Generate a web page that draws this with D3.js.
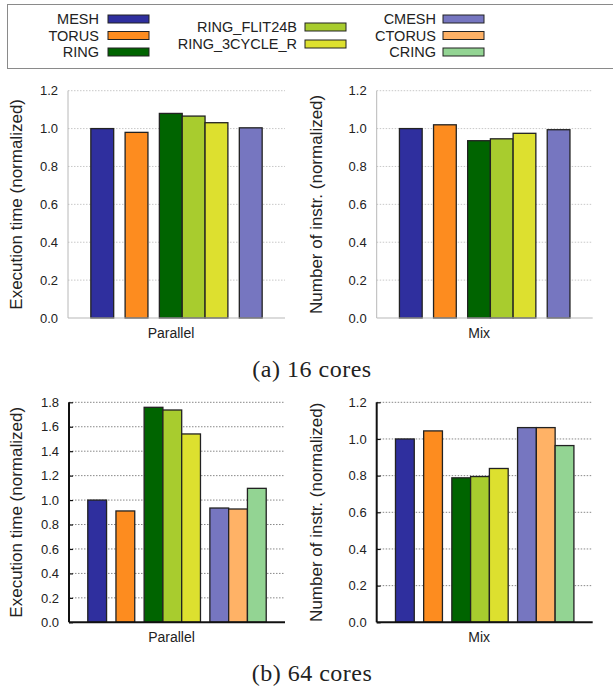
<!DOCTYPE html>
<html>
<head>
<meta charset="utf-8">
<script src="https://cdn.jsdelivr.net/npm/d3@7"></script>
<style>
body { margin: 0; background: #fff; }
text { font-family: "Liberation Sans", Arial, sans-serif; fill: #222; }
</style>
</head>
<body>
<div id="chart-area"></div>
<script>
// networks and the cluster each belongs to (clusters are separated by a gap)
let networks = ["MESH", "TORUS", "RING", "RING_FLIT24B", "RING_3CYCLE_R", "CMESH", "CTORUS", "CRING"];
let netGroup = [0, 1, 2, 2, 2, 3, 3, 3];
let netColors = ["#2f2f9e", "#fd8c1f", "#006400", "#a8cc2e", "#dde02f", "#7676c0", "#ffb266", "#93d493"];

// 16 cores (no concentrated ring / torus runs)
let parallel16 = [1.0, 0.98, 1.08, 1.066, 1.031, 1.004, null, null];
let mix16 = [1.0, 1.02, 0.936, 0.946, 0.975, 0.994, null, null];
// 64 cores
let parallel64 = [1.0, 0.911, 1.759, 1.737, 1.541, 0.935, 0.927, 1.096];
let mix64 = [1.0, 1.044, 0.788, 0.795, 0.839, 1.062, 1.062, 0.964];

let ticks12 = [0, 0.2, 0.4, 0.6, 0.8, 1.0, 1.2];
let ticks18 = [0, 0.2, 0.4, 0.6, 0.8, 1.0, 1.2, 1.4, 1.6, 1.8];

let svg = d3.select("#chart-area").append("svg")
	.attr("width", 613)
	.attr("height", 686);

// ---- legend ----
svg.append("rect")
	.attr("x", 7.5).attr("y", 4.5)
	.attr("width", 620).attr("height", 64)
	.attr("fill", "none")
	.attr("stroke", "#8a8a8a");

let legendCols = [
	{ idx: [0, 1, 2], right: 99, sw: 108, ys: [19, 35.5, 52] },
	{ idx: [3, 4], right: 297, sw: 305, ys: [27, 44] },
	{ idx: [5, 6, 7], right: 436, sw: 443, ys: [19, 35.5, 52] }
];
legendCols.forEach((c) => {
	c.idx.forEach((n, j) => {
		svg.append("text")
			.attr("x", c.right)
			.attr("y", c.ys[j] + 5.2)
			.attr("text-anchor", "end")
			.attr("font-size", "14.5px")
			.text(networks[n]);
		svg.append("rect")
			.attr("x", c.sw).attr("y", c.ys[j] - 4)
			.attr("width", 41).attr("height", 8)
			.attr("fill", netColors[n])
			.attr("stroke", "#222")
			.attr("stroke-width", 1);
	});
});

// ---- panels ----
let panels = [
	{ vals: parallel16, xlab: "Parallel", ylab: "Execution time (normalized)", ticks: ticks12,
	  x0: 68, x1: 285, y0: 318, y1: 90.7, titleX: 16, dark: false },
	{ vals: mix16, xlab: "Mix", ylab: "Number of instr. (normalized)", ticks: ticks12,
	  x0: 376.7, x1: 592.7, y0: 318, y1: 90.7, titleX: 316, dark: false },
	{ vals: parallel64, xlab: "Parallel", ylab: "Execution time (normalized)", ticks: ticks18,
	  x0: 69, x1: 285, y0: 622.3, y1: 402.3, titleX: 16, dark: true },
	{ vals: mix64, xlab: "Mix", ylab: "Number of instr. (normalized)", ticks: ticks12,
	  x0: 376.7, x1: 592.7, y0: 622.3, y1: 402.3, titleX: 316, dark: true }
];

panels.forEach((p) => {
	// unit positions: one unit per bar, half a unit between clusters
	let bars = [];
	let pos = 0, lastGroup = null;
	p.vals.forEach((v, i) => {
		if (v === null) return;
		if (lastGroup !== null && netGroup[i] !== lastGroup) pos += 0.5;
		bars.push({ name: networks[i], value: v, color: netColors[i], u: pos });
		pos += 1;
		lastGroup = netGroup[i];
	});

	let x = d3.scaleLinear()
		.domain([-1, pos + 1])
		.range([p.x0, p.x1]);

	let y = d3.scaleLinear()
		.domain([0, d3.max(p.ticks)])
		.range([p.y0, p.y1]);

	let g = svg.append("g");

	// grid
	g.selectAll(".grid").data(p.ticks.filter((t) => t > 0)).enter()
		.append("line")
		.attr("x1", p.x0).attr("x2", p.x1)
		.attr("y1", (d) => y(d)).attr("y2", (d) => y(d))
		.attr("stroke", p.dark ? "#888" : "#c8c8c8")
		.attr("stroke-width", 1)
		.attr("stroke-dasharray", "1.5,1.5");

	// left axis
	let axisLeft = d3.axisLeft(y)
		.tickValues(p.ticks)
		.tickFormat(d3.format(".1f"))
		.tickSize(p.dark ? -4 : 0)
		.tickPadding(p.dark ? 10 : 10);
	let ax = g.append("g")
		.attr("transform", "translate(" + p.x0 + ",0)")
		.call(axisLeft);
	ax.select(".domain").remove();
	ax.selectAll(".tick line").attr("stroke", "#111").attr("stroke-width", 1.2);
	ax.selectAll("text")
		.attr("font-size", "13px")
		.attr("fill", "#222")
		.attr("font-family", "Liberation Sans, Arial, sans-serif");

	g.append("line")
		.attr("x1", p.x0).attr("x2", p.x0)
		.attr("y1", p.y1).attr("y2", p.y0)
		.attr("stroke", p.dark ? "#111" : "#b8b8b8")
		.attr("stroke-width", p.dark ? 2 : 1);

	// bars
	g.selectAll(".bar").data(bars).enter()
		.append("rect")
		.attr("x", (d) => x(d.u))
		.attr("y", (d) => y(d.value))
		.attr("width", (d) => x(d.u + 1) - x(d.u))
		.attr("height", (d) => y(0) - y(d.value))
		.attr("fill", (d) => d.color)
		.attr("stroke", "#222")
		.attr("stroke-width", 1.3);

	// bottom axis line
	g.append("line")
		.attr("x1", p.x0).attr("x2", p.x1)
		.attr("y1", p.y0).attr("y2", p.y0)
		.attr("stroke", p.dark ? "#111" : "#b8b8b8")
		.attr("stroke-width", p.dark ? 2 : 1.2);

	// x label
	g.append("text")
		.attr("x", (p.x0 + p.x1) / 2 - 5.5)
		.attr("y", p.y0 + 20)
		.attr("text-anchor", "middle")
		.attr("font-size", "14px")
		.text(p.xlab);

	// y label
	g.append("text")
		.attr("transform", "translate(" + (p.titleX + 6) + "," + ((p.y0 + p.y1) / 2) + ") rotate(-90)")
		.attr("text-anchor", "middle")
		.attr("font-size", "17px")
		.text(p.ylab);
});

// ---- captions ----
let captions = [{ t: "(a) 16 cores", y: 377 }, { t: "(b) 64 cores", y: 681 }];
captions.forEach((c) => {
	svg.append("text")
		.attr("x", 312)
		.attr("y", c.y)
		.attr("text-anchor", "middle")
		.attr("font-size", "24px")
		.attr("letter-spacing", "0.5px")
		.style("font-family", "'Liberation Serif', 'Times New Roman', serif")
		.text(c.t);
});
</script>
</body>
</html>
